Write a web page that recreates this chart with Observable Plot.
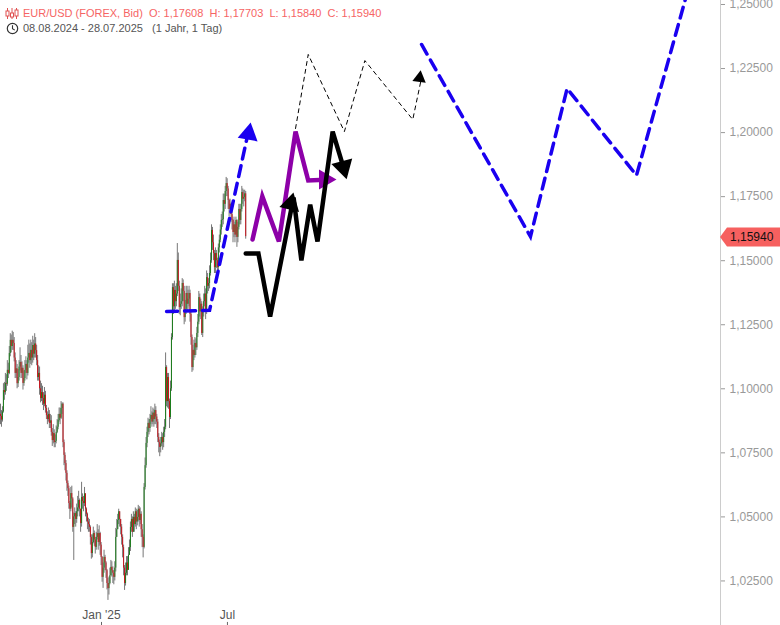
<!DOCTYPE html>
<html>
<head>
<meta charset="utf-8">
<script src="https://cdn.jsdelivr.net/npm/d3@7"></script>
<script src="https://cdn.jsdelivr.net/npm/@observablehq/plot@0.6"></script>
<style>
html,body{margin:0;padding:0;background:#fff;overflow:hidden}
#wrap{position:relative;width:780px;height:625px;font-family:"Liberation Sans",Arial,sans-serif}
.hd{position:absolute;left:23px;font-size:11px;line-height:14px;white-space:pre}
#h1{top:6px;color:#f66464}
#h2{top:21px;color:#555}
.ic{position:absolute;left:5px}
</style>
</head>
<body>
<div id="wrap">
<svg class="ic" style="top:7px" width="14" height="13" viewBox="0 0 14 13"><g fill="none" stroke="#e05050" stroke-width="1"><path d="M2.5 1v11M7 1v11M11.5 1v11"/><rect x="1" y="4" width="3" height="5" fill="#fff"/><rect x="5.5" y="6" width="3" height="4" fill="#fff"/><rect x="10" y="3" width="3" height="6" fill="#fff"/></g></svg>
<svg class="ic" style="top:22px;left:6px" width="13" height="13" viewBox="0 0 13 13"><circle cx="6.5" cy="6.5" r="5.2" fill="none" stroke="#333" stroke-width="1.2"/><path d="M6.5 3.2v3.5l2.3 1.4" fill="none" stroke="#333" stroke-width="1.1"/></svg>
<div class="hd" id="h1">EUR/USD (FOREX, Bid)  O: 1,17608  H: 1,17703  L: 1,15840  C: 1,15940</div>
<div class="hd" id="h2">08.08.2024 - 28.07.2025   (1 Jahr, 1 Tag)</div>
<div id="chart"></div>
</div>
<script>
// Daily EUR/USD bars, prices in 1/10000
const opens = [10900,10892,10878,10910,10993,10985,11021,11018,11072,11060,
11138,11189,11165,11189,11177,11120,11060,11078,11020,11044,
11085,11103,11060,11080,11021,11040,11072,11095,11060,11120,
11138,11110,11150,11120,11169,11135,11175,11149,11110,11044,
11060,11000,10962,10985,10962,10940,10975,10923,10895,10880,
10900,10865,10875,10830,10798,10825,10790,10795,10830,10850,
10876,10900,10885,10923,10940,10790,10740,10708,10670,10630,
10610,10552,10530,10591,10570,10459,10500,10513,10490,10520,
10535,10564,10530,10474,10576,10560,10552,10590,10530,10510,
10480,10470,10459,10420,10357,10400,10435,10410,10381,10420,
10435,10400,10435,10390,10342,10264,10300,10342,10320,10290,
10240,10220,10240,10270,10303,10290,10280,10264,10300,10420,
10450,10486,10520,10490,10460,10420,10380,10300,10240,10280,
10320,10291,10350,10380,10459,10490,10440,10498,10470,10520,
10480,10498,10530,10486,10510,10450,10420,10381,10615,10700,
10787,10830,10865,10845,10880,10896,10870,10905,10880,10915,
10890,10870,10810,10790,10771,10785,10810,10790,10830,10850,
11083,10950,11044,10950,10888,11000,11200,11395,11320,11384,
11340,11370,11501,11400,11317,11330,11340,11411,11380,11278,
11310,11372,11330,11350,11372,11290,11200,11083,11150,11130,
11177,11160,11216,11260,11356,11300,11330,11216,11300,11340,
11370,11300,11434,11400,11411,11450,11500,11618,11570,11528,
11473,11528,11500,11473,11550,11580,11620,11657,11660,11735,
11720,11770,11801,11780,11735,11700,11720,11680,11657,11610,
11640,11600,11657,11591,11630,11700,11657,11700,11766,11740,
11747,11761];
const closes = [10892,10878,10910,10993,10985,11021,11018,11072,11060,11138,
11189,11165,11189,11177,11120,11060,11078,11020,11044,11085,
11103,11060,11080,11021,11040,11072,11095,11060,11120,11138,
11110,11150,11120,11169,11135,11175,11149,11110,11044,11060,
11000,10962,10985,10962,10940,10975,10923,10895,10880,10900,
10865,10875,10830,10798,10825,10790,10795,10830,10850,10876,
10900,10885,10923,10940,10790,10740,10708,10670,10630,10610,
10552,10530,10591,10570,10459,10500,10513,10490,10520,10535,
10564,10530,10474,10576,10560,10552,10590,10530,10510,10480,
10470,10459,10420,10357,10400,10435,10410,10381,10420,10435,
10400,10435,10390,10342,10264,10300,10342,10320,10290,10240,
10220,10240,10270,10303,10290,10280,10264,10300,10420,10450,
10486,10520,10490,10460,10420,10380,10300,10240,10280,10320,
10291,10350,10380,10459,10490,10440,10498,10470,10520,10480,
10498,10530,10486,10510,10450,10420,10381,10615,10700,10787,
10830,10865,10845,10880,10896,10870,10905,10880,10915,10890,
10870,10810,10790,10771,10785,10810,10790,10830,10850,11083,
10950,11044,10950,10888,11000,11200,11395,11320,11384,11340,
11370,11501,11400,11317,11330,11340,11411,11380,11278,11310,
11372,11330,11350,11372,11290,11200,11083,11150,11130,11177,
11160,11216,11260,11356,11300,11330,11216,11300,11340,11370,
11300,11434,11400,11411,11450,11500,11618,11570,11528,11473,
11528,11500,11473,11550,11580,11620,11657,11660,11735,11720,
11770,11801,11780,11735,11700,11720,11680,11657,11610,11640,
11600,11657,11591,11630,11700,11657,11700,11766,11740,11747,
11761,11594];
const highs = [10940,10915,10930,11020,11025,11060,11055,11110,11100,11165,
11215,11210,11225,11220,11200,11140,11110,11095,11075,11110,
11160,11130,11105,11090,11070,11110,11125,11110,11170,11190,
11175,11190,11180,11205,11190,11215,11200,11170,11130,11090,
11085,11030,11020,11010,10985,11005,10990,10935,10910,10925,
10915,10900,10895,10845,10860,10840,10820,10855,10880,10900,
10925,10925,10950,10945,10945,10800,10750,10720,10680,10640,
10620,10560,10615,10620,10575,10515,10535,10520,10550,10580,
10600,10570,10530,10635,10590,10580,10615,10590,10535,10515,
10495,10490,10465,10430,10430,10460,10445,10420,10440,10470,
10450,10465,10440,10400,10345,10320,10370,10350,10325,10295,
10260,10265,10300,10330,10325,10305,10290,10325,10455,10490,
10510,10530,10520,10490,10470,10430,10390,10310,10320,10345,
10345,10380,10410,10480,10510,10500,10520,10510,10535,10530,
10525,10545,10540,10535,10520,10470,10430,10630,10730,10810,
10850,10885,10880,10900,10930,10910,10925,10920,10940,10930,
10900,10880,10825,10800,10810,10830,10825,10850,10880,11140,
11090,11060,11060,10960,11030,11215,11410,11410,11420,11400,
11410,11567,11530,11420,11370,11390,11430,11425,11400,11345,
11400,11400,11385,11400,11385,11300,11210,11170,11190,11200,
11195,11240,11290,11380,11370,11350,11340,11320,11370,11400,
11390,11460,11450,11430,11480,11530,11640,11630,11600,11540,
11550,11540,11510,11565,11600,11640,11680,11690,11760,11760,
11790,11825,11820,11790,11740,11740,11725,11690,11660,11670,
11650,11670,11660,11650,11720,11720,11720,11790,11780,11775,
11775,11770];
const lows = [10860,10850,10870,10905,10955,10975,10990,11010,11040,11055,
11125,11140,11150,11150,11105,11040,11040,11000,11005,11030,
11070,11040,11040,10995,11010,11030,11060,11035,11050,11100,
11080,11095,11090,11100,11110,11120,11120,11090,11030,11030,
10975,10945,10950,10935,10915,10930,10905,10880,10860,10870,
10845,10845,10815,10775,10785,10770,10770,10785,10825,10840,
10870,10860,10880,10900,10770,10700,10680,10640,10600,10580,
10530,10490,10520,10535,10440,10330,10470,10460,10475,10500,
10520,10500,10440,10460,10530,10520,10540,10500,10480,10450,
10440,10440,10390,10335,10340,10395,10385,10355,10370,10410,
10370,10385,10350,10310,10245,10221,10280,10290,10260,10215,
10174,10195,10235,10270,10265,10240,10235,10250,10285,10420,
10450,10470,10460,10430,10390,10340,10270,10213,10230,10270,
10270,10295,10350,10365,10440,10420,10440,10440,10460,10450,
10465,10480,10460,10470,10420,10380,10340,10375,10605,10690,
10770,10810,10820,10830,10860,10850,10860,10850,10860,10860,
10845,10790,10750,10735,10750,10775,10760,10770,10810,10840,
10930,10925,10920,10845,10880,10990,11190,11290,11305,11310,
11320,11360,11380,11290,11285,11310,11320,11340,11250,11260,
11290,11300,11310,11320,11260,11170,11064,11070,11110,11120,
11130,11150,11200,11250,11280,11270,11208,11200,11280,11320,
11270,11290,11370,11380,11390,11440,11490,11540,11500,11450,
11450,11470,11450,11460,11530,11570,11600,11630,11640,11690,
11700,11750,11750,11700,11670,11680,11650,11620,11570,11590,
11570,11590,11552,11570,11620,11640,11640,11690,11720,11710,
11730,11584];

// Drawn analysis lines: bar position and price
const blueRiseBars = [170,214,254];
const blueRisePrices = [1.1302,1.1306,1.2008];
const blueFutureBars = [431,542.5,580,651,703];
const blueFuturePrices = [1.2344,1.1594,1.2172,1.1833,1.2547];
const thinBars = [302,315,352,373,422,430];
const thinPrices = [1.2016,1.2305,1.2004,1.2281,1.2051,1.2196];
const purpleBars = [258,268,285,302,315,338];
const purplePrices = [1.1583,1.1751,1.1575,1.2004,1.1813,1.1817];
const blackBars = [251,264,276,300,308,317,324.5,340,353];
const blackPrices = [1.1528,1.1528,1.1282,1.1747,1.1501,1.1719,1.1575,1.2004,1.1840];

const priceTicks = [1.025,1.05,1.075,1.1,1.125,1.15,1.175,1.2,1.225,1.25];
const timeBars = [103.4,232.3];
const timeLabels = ["Jan '25","Jul"];
const lastPrice = 1.1594;

const bars = d3.range(closes.length);
const comma = d => d.toFixed(5).replace(".", ",");
const pr = a => bars.map(i => a[i] / 10000);
const O = pr(opens), H = pr(highs), L = pr(lows), C = pr(closes);
const up = bars.filter(i => C[i] >= O[i]), down = bars.filter(i => C[i] < O[i]);

const badge = (index, {y}) => {
  const py = y(lastPrice) + 1, g = d3.create("svg:g");
  g.append("path").attr("d", `M720 ${py}L727 ${py-9.5}H780V${py+9.5}H727Z`).attr("fill", "#f6605f");
  g.append("text").attr("x", 730).attr("y", py + 4.3).attr("text-anchor", "start").attr("fill", "#111").attr("font-size", 12).text(comma(lastPrice));
  return g.node();
};

const heavy = {strokeLinejoin: "miter", strokeMiterlimit: 4};
const chart = Plot.plot({
  width: 780, height: 625,
  marginTop: 0, marginBottom: 0, marginLeft: 0, marginRight: 60,
  x: {domain: [0, 737], axis: null},
  y: {domain: [1.00761, 1.25156], axis: null},
  style: {fontSize: "12px", fontFamily: '"Liberation Sans",Arial,sans-serif', background: "#fff"},
  marks: [
    Plot.ruleX([737], {stroke: "#ccc"}),
    Plot.axisY({anchor: "right", ticks: priceTicks, tickFormat: comma, tickSize: 4, tickPadding: 5, color: "#999", label: null}),
    Plot.ruleX(timeBars, {y1: 1.00761, y2: 1.0088, stroke: "#666"}),
    Plot.text(timeLabels, {x: timeBars, text: d => d, frameAnchor: "bottom", dy: -7, fill: "#555"}),
    Plot.ruleX(bars, {x: d => d, y1: i => L[i], y2: i => H[i], stroke: "#777", strokeWidth: 1}),
    Plot.ruleX(up, {x: d => d, y1: i => O[i], y2: i => C[i], stroke: "#1c7d1c", strokeWidth: 1}),
    Plot.ruleX(down, {x: d => d, y1: i => O[i], y2: i => C[i], stroke: "#c8141c", strokeWidth: 1}),
    Plot.line(blueRisePrices, {x: blueRiseBars, y: blueRisePrices, stroke: "#1a00f0", strokeWidth: 3.5, strokeDasharray: "11,7", ...heavy}),
    Plot.dot([0], {x: [254], y: [1.1995], symbol: "triangle", r: 7.5, fill: "#1a00f0", rotate: 10}),
    Plot.line(blueFuturePrices, {x: blueFutureBars, y: blueFuturePrices, stroke: "#1a00f0", strokeWidth: 3.5, strokeDasharray: "11,7", ...heavy}),
    Plot.line(thinPrices, {x: thinBars, y: thinPrices, stroke: "#000", strokeWidth: 1, strokeDasharray: "4,4", ...heavy}),
    Plot.dot([0], {x: [429], y: [1.2213], symbol: "triangle", r: 5, fill: "#000", rotate: 8}),
    Plot.line(purplePrices, {x: purpleBars, y: purplePrices, stroke: "#8d00a8", strokeWidth: 4.5, ...heavy}),
    Plot.dot([0], {x: [332], y: [1.1817], symbol: "triangle", r: 7.5, fill: "#8d00a8", rotate: 90}),
    Plot.line(blackPrices, {x: blackBars, y: blackPrices, stroke: "#000", strokeWidth: 4.5, ...heavy}),
    Plot.dot([0], {x: [297], y: [1.1722], symbol: "triangle", r: 7.5, fill: "#000", rotate: 14}),
    Plot.dot([0], {x: [351], y: [1.1865], symbol: "triangle", r: 8, fill: "#000", rotate: 165}),
    badge
  ]
});
chart.style.display = "block";
document.getElementById("chart").appendChild(chart);
</script>
</body>
</html>
